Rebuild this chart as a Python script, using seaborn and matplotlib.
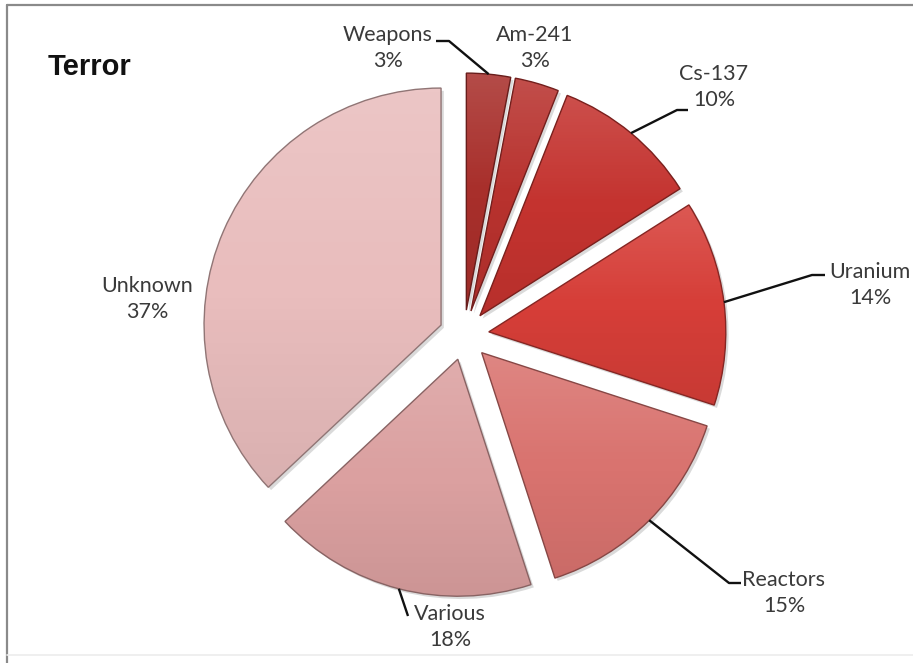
import numpy as np
import matplotlib
matplotlib.use("Agg")
import matplotlib.pyplot as plt
import seaborn as sns
from matplotlib import patheffects as pe
from matplotlib.patches import PathPatch
from matplotlib.colors import to_rgb

# Share of incidents by material category (percent), clockwise from 12 o'clock
categories = ["Weapons", "Am-241", "Cs-137", "Uranium", "Reactors", "Various", "Unknown"]
shares = [3, 3, 10, 14, 15, 18, 37]
slice_colors = ["#a82f2b", "#b8322e", "#c4332f", "#d63e38", "#d9736f", "#dba0a0", "#e9bdbd"]

title = "Terror"

# Layout (pixel units of the 913x663 canvas, y pointing down)
CANVAS_W, CANVAS_H = 913, 663
PIE_CENTER = (464, 335)
PIE_RADIUS = 237
EXPLODE = 25
label_pos = {
    "Weapons": (388, 48), "Am-241": (535, 48), "Cs-137": (714, 87),
    "Uranium": (870, 285), "Reactors": (784, 593), "Various": (450, 627),
    "Unknown": (147, 299),
}
# text-side end of each leader line (elbow near the label)
leader_elbows = {
    "Weapons": [(436, 41), (449, 41)],
    "Cs-137": [(688, 110), (677, 110)],
    "Uranium": [(825, 275), (812, 275)],
    "Reactors": [(741, 583), (729, 583)],
    "Various": [(408, 616)],
}

sns.set_theme(style="white")
plt.rcParams["font.family"] = ["Lato", "DejaVu Sans"]

fig = plt.figure(figsize=(CANVAS_W / 100, CANVAS_H / 100), dpi=100)
ax = fig.add_axes([0, 0, 1, 1])

palette = sns.color_palette(slice_colors)


def shade(c, f):
    r, g, b = to_rgb(c)
    return (r * f, g * f, b * f)


wedges, _ = ax.pie(
    shares,
    colors=palette,
    startangle=-90,          # y axis is inverted: -90 points up on screen
    counterclock=True,       # runs clockwise on screen
    explode=[EXPLODE] * len(shares),
    radius=PIE_RADIUS,
    center=PIE_CENTER,
    wedgeprops=dict(linewidth=0),
)

# vertical light-to-dark sheen over each slice's own extent
n = 200
t = np.linspace(0, 1, n)
sheen = np.zeros((n, 1, 4))
upper = t < 0.5
sheen[upper, 0, :3] = 1.0
sheen[upper, 0, 3] = 0.14 * (1 - 2 * t[upper])
sheen[~upper, 0, :3] = 0.0
sheen[~upper, 0, 3] = 0.07 * (2 * t[~upper] - 1)

for w, c in zip(wedges, palette):
    w.set_path_effects([
        pe.SimplePatchShadow(offset=(2, -2), shadow_rgbFace=(0.35, 0.35, 0.35), alpha=0.22),
        pe.Normal(),
    ])
    bb = w.get_path().get_extents()
    im = ax.imshow(sheen, extent=(bb.x0, bb.x1, bb.y1, bb.y0), origin="upper",
                   aspect="auto", interpolation="bilinear", zorder=1.5)
    im.set_clip_path(w)
    ax.add_patch(PathPatch(w.get_path(), facecolor="none",
                           edgecolor=shade(c, 0.62), linewidth=1.0, zorder=2))

# labels with leader lines anchored at the middle of each slice's arc
for w, name, v in zip(wedges, categories, shares):
    lx, ly = label_pos[name]
    ax.text(lx, ly, f"{name}\n{v}%", ha="center", va="center", fontsize=15.5,
            color="#3a3a3a", linespacing=1.35, zorder=4)
    if name in leader_elbows:
        tm = np.deg2rad((w.theta1 + w.theta2) / 2)
        cx, cy = w.center
        ax_pt = (cx + w.r * np.cos(tm), cy + w.r * np.sin(tm))
        pts = leader_elbows[name] + [ax_pt]
        xs, ys = zip(*pts)
        ax.plot(xs, ys, color="#111111", linewidth=1.7, zorder=3,
                solid_capstyle="butt")

ax.text(48, 67, title, ha="left", va="center", fontsize=21, fontweight="bold",
        family=["Liberation Sans", "DejaVu Sans"], color="#111111")

# chart frame
ax.plot([7, 7], [CANVAS_H, 5], color="#8a8a8a", linewidth=1.6, zorder=5)
ax.plot([7, CANVAS_W], [5, 5], color="#8a8a8a", linewidth=1.6, zorder=5)
ax.plot([7, CANVAS_W], [655, 655], color="#ececec", linewidth=1.2, zorder=5)

ax.set_xlim(0, CANVAS_W)
ax.set_ylim(CANVAS_H, 0)
ax.set_aspect("equal")
ax.axis("off")

fig.savefig("out.png", dpi=100, facecolor="white")
